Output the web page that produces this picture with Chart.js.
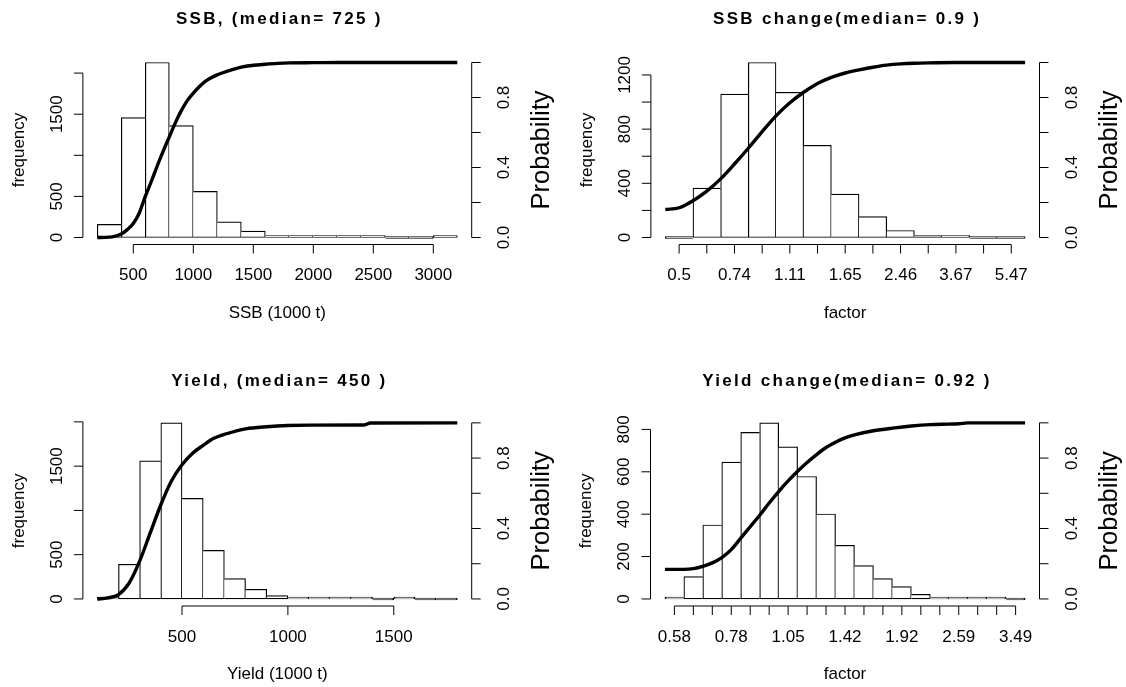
<!DOCTYPE html>
<html>
<head>
<meta charset="utf-8">
<script src="https://cdn.jsdelivr.net/npm/chart.js@4.4.0/dist/chart.umd.min.js"></script>
<style>
  body { margin: 0; background: #fff; }
  #wrap { position: relative; width: 1126px; height: 687px; background: #fff; }
  canvas { position: absolute; }
</style>
</head>
<body>
<div id="wrap">
  <canvas id="c1" width="563" height="343" style="left:0;top:0"></canvas>
  <canvas id="c2" width="563" height="343" style="left:563px;top:0"></canvas>
  <canvas id="c3" width="563" height="344" style="left:0;top:343px"></canvas>
  <canvas id="c4" width="563" height="344" style="left:563px;top:343px"></canvas>
</div>
<script>
// ---- SSB ----
var ssbBreaks = [200, 400, 600, 800, 1000, 1200, 1400, 1600, 1800, 2000, 2200, 2400, 2600, 2800, 3000, 3200];
var ssbCounts = [159, 1459, 2129, 1361, 561, 190, 77, 20, 12, 3, 1, 1, 0, 0, 1];
var ssbCdfX = [200, 300, 350, 400, 450, 500, 550, 600, 650, 700, 750, 800, 850, 900, 950, 1000, 1100, 1200, 1300, 1400, 1500, 1600, 1700, 1800, 2000, 2200, 3200];
var ssbCdfP = [0, 0.002, 0.008, 0.02, 0.045, 0.08, 0.14, 0.235, 0.32, 0.41, 0.495, 0.575, 0.655, 0.725, 0.782, 0.825, 0.892, 0.93, 0.954, 0.974, 0.984, 0.99, 0.995, 0.998, 0.999, 1, 1];
var ssbXTicks = [500, 1000, 1500, 2000, 2500, 3000];
var ssbXLabels = ["500", "1000", "1500", "2000", "2500", "3000"];
var ssbYTicks = [0, 500, 1000, 1500, 2000];
var ssbYLabels = ["0", "500", "", "1500", ""];

// ---- SSB change (log factor) ----
var ssbChBreaks = [-0.8, -0.6, -0.4, -0.2, 0, 0.2, 0.4, 0.6, 0.8, 1.0, 1.2, 1.4, 1.6, 1.8];
var ssbChCounts = [0, 364, 1058, 1292, 1072, 681, 320, 154, 52, 15, 2, 0, 0];
var ssbChCdfX = [-0.8, -0.7, -0.6, -0.5, -0.4, -0.3, -0.2, -0.1, 0, 0.1, 0.2, 0.3, 0.4, 0.5, 0.6, 0.7, 0.8, 0.9, 1.0, 1.1, 1.3, 1.8];
var ssbChCdfP = [0.16, 0.17, 0.21, 0.265, 0.335, 0.42, 0.51, 0.605, 0.695, 0.77, 0.83, 0.88, 0.915, 0.94, 0.958, 0.973, 0.985, 0.992, 0.996, 0.998, 1, 1];
var ssbChXTicks = [-0.7, -0.5, -0.3, -0.1, 0.1, 0.3, 0.5, 0.7, 0.9, 1.1, 1.3, 1.5, 1.7];
var ssbChXLabels = ["0.5", "", "0.74", "", "1.11", "", "1.65", "", "2.46", "", "3.67", "", "5.47"];
var ssbChYTicks = [0, 200, 400, 600, 800, 1000, 1200];
var ssbChYLabels = ["0", "", "400", "", "800", "", "1200"];

// ---- Yield ----
var yldBreaks = [100, 200, 300, 400, 500, 600, 700, 800, 900, 1000, 1100, 1200, 1300, 1400, 1500, 1600, 1700, 1800];
var yldCounts = [20, 391, 1560, 1989, 1136, 549, 229, 109, 38, 15, 5, 2, 1, 0, 1, 0, 0];
var yldCdfX = [100, 150, 200, 250, 300, 350, 400, 450, 500, 550, 600, 650, 700, 750, 800, 900, 1000, 1100, 1360, 1390, 1800];
var yldCdfP = [0, 0.006, 0.025, 0.09, 0.215, 0.375, 0.535, 0.67, 0.762, 0.828, 0.872, 0.912, 0.935, 0.952, 0.966, 0.978, 0.985, 0.987, 0.988, 0.999, 1];
var yldXTicks = [500, 1000, 1500];
var yldXLabels = ["500", "1000", "1500"];
var yldYTicks = [0, 500, 1000, 1500, 2000];
var yldYLabels = ["0", "500", "", "1500", ""];

// ---- Yield change (log factor) ----
var yldChBreaks = [-0.6, -0.5, -0.4, -0.3, -0.2, -0.1, 0, 0.1, 0.2, 0.3, 0.4, 0.5, 0.6, 0.7, 0.8, 0.9, 1.0, 1.1, 1.2, 1.3];
var yldChCounts = [6, 105, 349, 646, 786, 831, 718, 578, 401, 253, 157, 96, 58, 22, 6, 4, 2, 1, 0];
var yldChCdfX = [-0.6, -0.5, -0.45, -0.4, -0.35, -0.3, -0.25, -0.2, -0.15, -0.1, -0.05, 0, 0.05, 0.1, 0.15, 0.2, 0.25, 0.3, 0.35, 0.4, 0.5, 0.6, 0.7, 0.8, 0.9, 0.95, 1.0, 1.3];
var yldChCdfP = [0.168, 0.168, 0.172, 0.185, 0.205, 0.235, 0.28, 0.345, 0.41, 0.475, 0.545, 0.61, 0.67, 0.725, 0.775, 0.82, 0.86, 0.89, 0.915, 0.932, 0.955, 0.97, 0.982, 0.99, 0.993, 0.995, 1, 1];
var yldChXTicks = [-0.55, -0.45, -0.35, -0.25, -0.15, -0.05, 0.05, 0.15, 0.25, 0.35, 0.45, 0.55, 0.65, 0.75, 0.85, 0.95, 1.05, 1.15, 1.25];
var yldChXLabels = ["0.58", "", "", "0.78", "", "", "1.05", "", "", "1.42", "", "", "1.92", "", "", "2.59", "", "", "3.49"];
var yldChYTicks = [0, 200, 400, 600, 800];
var yldChYLabels = ["0", "200", "400", "600", "800"];

var probTicks = [0, 0.2, 0.4, 0.6, 0.8, 1];
var probLabels = ["0.0", "", "0.4", "", "0.8", ""];

var FONT = '"Liberation Sans", Arial, sans-serif';

// R style axes: line only between first and last tick, ticks pointing out
function rAxes(p) {
  return {
    id: 'rAxes',
    afterDraw: function (chart) {
      var ctx = chart.ctx, a = chart.chartArea;
      var x = chart.scales.x, y = chart.scales.y, y2 = chart.scales.y2;
      var T = 9;
      ctx.save();
      ctx.strokeStyle = '#000';
      ctx.fillStyle = '#000';
      ctx.lineWidth = 1;
      function seg(x1, y1, x2, y2_) {
        ctx.beginPath(); ctx.moveTo(x1, y1); ctx.lineTo(x2, y2_); ctx.stroke();
      }
      function vtext(t, px, py) {
        ctx.save(); ctx.translate(px, py); ctx.rotate(-Math.PI / 2); ctx.fillText(t, 0, 0); ctx.restore();
      }
      ctx.textAlign = 'center';
      ctx.textBaseline = 'middle';
      ctx.font = '17px ' + FONT;

      // bottom
      var bx = p.xTicks.map(function (v) { return x.getPixelForValue(v); });
      var yb = a.bottom;
      seg(bx[0], yb, bx[bx.length - 1], yb);
      bx.forEach(function (px, i) {
        seg(px, yb, px, yb + T);
        if (p.xLabels[i]) ctx.fillText(p.xLabels[i], px, yb + 31);
      });

      // left
      var ly = p.yTicks.map(function (v) { return y.getPixelForValue(v); });
      seg(a.left, ly[0], a.left, ly[ly.length - 1]);
      ly.forEach(function (py, i) {
        seg(a.left, py, a.left - T, py);
        if (p.yLabels[i]) vtext(p.yLabels[i], a.left - 26, py);
      });

      // right
      var ry = probTicks.map(function (v) { return y2.getPixelForValue(v); });
      seg(a.right, ry[0], a.right, ry[ry.length - 1]);
      ry.forEach(function (py, i) {
        seg(a.right, py, a.right + T, py);
        if (probLabels[i]) vtext(probLabels[i], a.right + 33, py);
      });

      var cy = (a.top + a.bottom) / 2, cx = (a.left + a.right) / 2;
      ctx.fillText(p.xlab, cx, yb + 68.5);
      vtext('frequency', a.left - 64, cy);
      ctx.font = '25.5px ' + FONT;
      vtext('Probability', a.right + 70, cy);

      ctx.font = 'bold 17px ' + FONT;
      ctx.letterSpacing = '2.3px';
      ctx.fillText(p.title, cx + 2, a.top - p.titleGap);
      ctx.letterSpacing = '0px';
      ctx.restore();
    }
  };
}

function skipSide(counts) {
  return function (c) {
    var i = c.dataIndex, n = counts.length;
    if (i > 0 && counts[i - 1] >= counts[i]) return 'left';
    if (i < n - 1 && counts[i + 1] > counts[i]) return 'right';
    return false;
  };
}

function drawPanel(id, p) {
  var canvas = document.getElementById(id);
  var W = canvas.width, H = canvas.height;
  var b = p.breaks;
  var mids = b.slice(0, -1).map(function (v, i) { return (v + b[i + 1]) / 2; });
  var x0 = b[0], x1 = b[b.length - 1], dx = (x1 - x0) * 0.04;
  var M = Math.max.apply(null, p.counts);

  new Chart(canvas, {
    type: 'bar',
    data: {
      datasets: [
        {
          type: 'line',
          data: p.cdfX.map(function (v, i) { return { x: v, y: p.cdfP[i] }; }),
          yAxisID: 'y2',
          borderColor: '#000',
          borderWidth: 3.4,
          pointRadius: 0,
          fill: false,
          cubicInterpolationMode: 'monotone',
          order: 0
        },
        {
          type: 'bar',
          data: mids.map(function (v, i) { return { x: v, y: p.counts[i] }; }),
          yAxisID: 'y',
          backgroundColor: '#fff',
          borderColor: '#000',
          borderWidth: 1.2,
          borderSkipped: skipSide(p.counts),
          barPercentage: 1,
          categoryPercentage: 1,
          minBarLength: 1.8,
          order: 1
        }
      ]
    },
    options: {
      responsive: false,
      animation: false,
      events: [],
      devicePixelRatio: 1,
      layout: { padding: { left: p.box[0], top: p.box[1], right: W - p.box[2], bottom: H - p.box[3] } },
      plugins: { legend: { display: false }, tooltip: { enabled: false }, title: { display: false } },
      scales: {
        x: {
          type: 'linear', display: false, offset: false, min: x0 - dx, max: x1 + dx,
          afterBuildTicks: function (s) { s.ticks = p.xTicks.map(function (v) { return { value: v }; }); }
        },
        y: { type: 'linear', display: false, min: -0.04 * M, max: 1.04 * M },
        y2: { type: 'linear', display: false, min: -0.04, max: 1.04 }
      }
    },
    plugins: [rAxes(p)]
  });
}

drawPanel('c1', {
  title: 'SSB, (median= 725 )', xlab: 'SSB (1000 t)', titleGap: 36,
  breaks: ssbBreaks, counts: ssbCounts, cdfX: ssbCdfX, cdfP: ssbCdfP,
  xTicks: ssbXTicks, xLabels: ssbXLabels, yTicks: ssbYTicks, yLabels: ssbYLabels,
  box: [82.9, 55.5, 471.7, 244.5]
});
drawPanel('c2', {
  title: 'SSB change(median= 0.9 )', xlab: 'factor', titleGap: 36,
  breaks: ssbChBreaks, counts: ssbChCounts, cdfX: ssbChCdfX, cdfP: ssbChCdfP,
  xTicks: ssbChXTicks, xLabels: ssbChXLabels, yTicks: ssbChYTicks, yLabels: ssbChYLabels,
  box: [87.9, 55.5, 476.5, 244.5]
});
drawPanel('c3', {
  title: 'Yield, (median= 450 )', xlab: 'Yield (1000 t)', titleGap: 34,
  breaks: yldBreaks, counts: yldCounts, cdfX: yldCdfX, cdfP: yldCdfP,
  xTicks: yldXTicks, xLabels: yldXLabels, yTicks: yldYTicks, yLabels: yldYLabels,
  box: [82.9, 72.8, 471.7, 263.0]
});
drawPanel('c4', {
  title: 'Yield change(median= 0.92 )', xlab: 'factor', titleGap: 34,
  breaks: yldChBreaks, counts: yldChCounts, cdfX: yldChCdfX, cdfP: yldChCdfP,
  xTicks: yldChXTicks, xLabels: yldChXLabels, yTicks: yldChYTicks, yLabels: yldChYLabels,
  box: [87.5, 72.8, 476.5, 263.0]
});
</script>
</body>
</html>
